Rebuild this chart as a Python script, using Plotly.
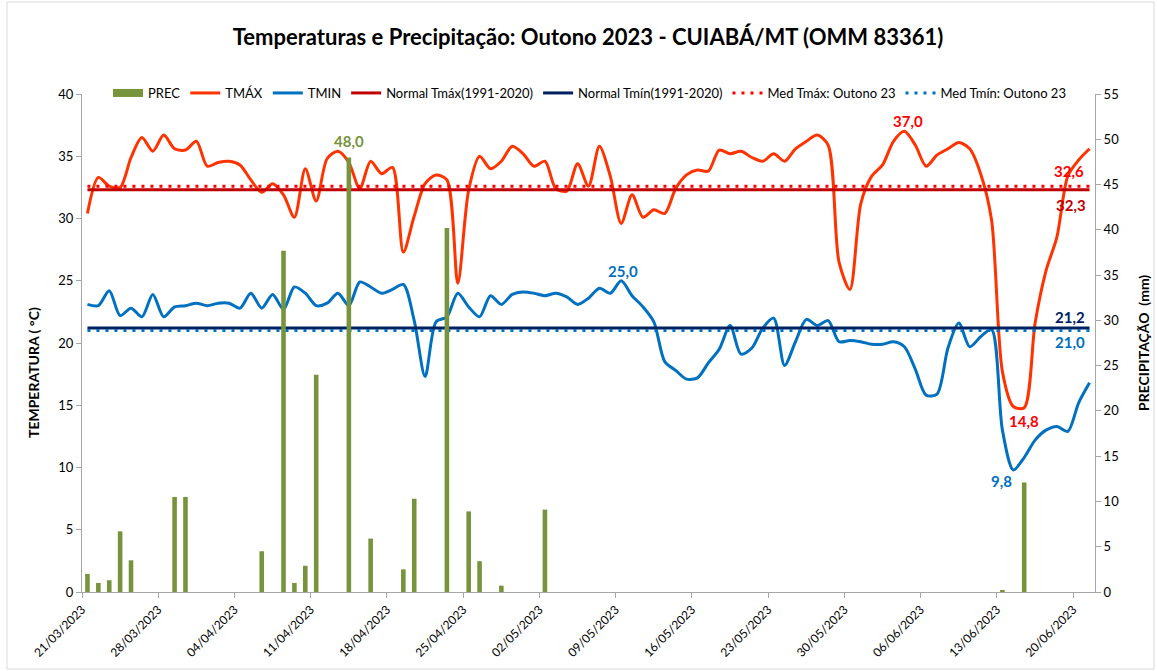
import pandas as pd
import plotly.graph_objects as go

# ---------------- data ----------------
START = "2023-03-21"

TMAX = [30.4, 33.3, 32.6, 32.5, 34.9, 36.5, 35.4, 36.7, 35.6, 35.5,
        36.2, 34.2, 34.5, 34.6, 34.3, 33.1, 32.1, 32.8, 31.9, 30.1,
        34.0, 31.4, 34.8, 35.4, 34.5, 32.4, 34.6, 33.6, 34.1, 27.3,
        30.2, 32.8, 33.5, 33.1, 24.8, 32.3, 35.0, 34.0, 34.6, 35.8,
        35.2, 34.2, 34.6, 32.4, 32.2, 34.4, 32.6, 35.8, 33.4, 29.6,
        31.9, 30.1, 30.7, 30.4, 32.4, 33.5, 33.9, 33.8, 35.5, 35.2,
        35.4, 34.9, 34.6, 35.2, 34.6, 35.6, 36.2, 36.7, 35.9, 26.5,
        24.3, 31.2, 33.4, 34.3, 36.2, 37.0, 35.9, 34.2, 35.1, 35.6,
        36.1, 35.6, 33.6, 29.9, 17.7, 14.9, 14.8, 21.6, 25.8, 28.5,
        33.4, 34.7, 35.6]

TMIN = [23.1, 23.0, 24.2, 22.2, 22.8, 22.1, 23.9, 22.1, 22.9, 23.0,
        23.2, 23.0, 23.2, 23.2, 22.8, 24.0, 22.8, 23.9, 22.7, 24.5,
        24.0, 23.0, 23.2, 24.0, 23.0, 24.9, 24.5, 24.0, 24.3, 24.7,
        21.8, 17.3, 21.7, 22.1, 24.0, 22.9, 22.1, 23.8, 23.1, 23.9,
        24.1, 24.0, 23.8, 24.0, 23.7, 23.1, 23.6, 24.4, 24.0, 25.0,
        23.8, 22.9, 21.7, 18.5, 17.8, 17.1, 17.2, 18.4, 19.5, 21.4,
        19.1, 19.6, 21.2, 22.0, 18.2, 20.1, 21.9, 21.4, 21.8, 20.1,
        20.2, 20.1, 19.9, 19.9, 20.1, 19.7, 17.9, 15.8, 15.9, 19.6,
        21.6, 19.7, 20.5, 21.1, 13.0, 9.8, 10.8, 12.2, 13.0, 13.3,
        12.9, 15.2, 16.8]

PREC = [2.0, 1.0, 1.3, 6.7, 3.5, 0, 0, 0, 10.5, 10.5,
        0, 0, 0, 0, 0, 0, 4.5, 0, 37.7, 1.0,
        2.9, 24.0, 0, 0, 48.0, 0, 5.9, 0, 0, 2.5,
        10.3, 0, 0, 40.2, 0, 8.9, 3.4, 0, 0.7, 0,
        0, 0, 9.1, 0, 0, 0, 0, 0, 0, 0,
        0, 0, 0, 0, 0, 0, 0, 0, 0, 0,
        0, 0, 0, 0, 0, 0, 0, 0, 0, 0,
        0, 0, 0, 0, 0, 0, 0, 0, 0, 0,
        0, 0, 0, 0, 0.2, 0, 12.1, 0, 0, 0,
        0, 0, 0]

NORMAL_TMAX = 32.3
NORMAL_TMIN = 21.2
MED_TMAX = 32.6
MED_TMIN = 21.0

TICK_DATES = ["2023-03-21", "2023-03-28", "2023-04-04", "2023-04-11",
              "2023-04-18", "2023-04-25", "2023-05-02", "2023-05-09",
              "2023-05-16", "2023-05-23", "2023-05-30", "2023-06-06",
              "2023-06-13", "2023-06-20"]
TICK_LABELS = ["21/03/2023", "28/03/2023", "04/04/2023", "11/04/2023",
               "18/04/2023", "25/04/2023", "02/05/2023", "09/05/2023",
               "16/05/2023", "23/05/2023", "30/05/2023", "06/06/2023",
               "13/06/2023", "20/06/2023"]

# ---------------- figure ----------------
FONT = "Lato"
C_PREC = "#77933C"
C_TMAX = "#FF3300"
C_TMIN = "#0070C0"
C_NTMAX = "#C00000"
C_NTMIN = "#002060"
C_MTMAX = "#FF0000"
C_MTMIN = "#0070C0"
AX = "#A6A6A6"

W, H = 1157, 671
ML, MR, MT, MB = 82, 62, 94, 79
PW, PH = W - ML - MR, H - MT - MB

dates = pd.date_range(START, periods=len(TMAX), freq="D")
half = pd.Timedelta(hours=12)
n = len(dates)


def fmt(v):
    return f"{v:.1f}".replace(".", ",")


fig = go.Figure()
fig.add_trace(go.Bar(x=dates, y=PREC, name="PREC", yaxis="y2", showlegend=False,
                     marker=dict(color=C_PREC, line=dict(width=0)),
                     width=0.42 * 86400000))
# legend entry for the bars drawn as a wide bar swatch (Excel style)
fig.add_trace(go.Scatter(x=[None], y=[None], name="PREC", mode="lines",
                         line=dict(color=C_PREC, width=8)))
fig.add_trace(go.Scatter(x=dates, y=TMAX, name="TMÁX", mode="lines",
                         line=dict(color=C_TMAX, width=3, shape="spline", smoothing=0.8)))
fig.add_trace(go.Scatter(x=dates, y=TMIN, name="TMIN", mode="lines",
                         line=dict(color=C_TMIN, width=3, shape="spline", smoothing=0.8)))
fig.add_trace(go.Scatter(x=dates, y=[NORMAL_TMAX] * n, name="Normal Tmáx(1991-2020)",
                         mode="lines", line=dict(color=C_NTMAX, width=3)))
fig.add_trace(go.Scatter(x=dates, y=[NORMAL_TMIN] * n, name="Normal Tmín(1991-2020)",
                         mode="lines", line=dict(color=C_NTMIN, width=3)))
fig.add_trace(go.Scatter(x=dates, y=[MED_TMAX] * n, name="Med Tmáx: Outono 23",
                         mode="lines", line=dict(color=C_MTMAX, width=3, dash="3px,6px")))
fig.add_trace(go.Scatter(x=dates, y=[MED_TMIN] * n, name="Med Tmín: Outono 23",
                         mode="lines", line=dict(color=C_MTMIN, width=3, dash="3px,6px")))

# data labels
ip = max(range(n), key=lambda i: PREC[i])
ixmax = max(range(n), key=lambda i: TMAX[i])
ixmin = min(range(n), key=lambda i: TMAX[i])
inmax = max(range(n), key=lambda i: TMIN[i])
inmin = min(range(n), key=lambda i: TMIN[i])
LBL = dict(family=FONT, size=15)
ann = [
    dict(x=dates[ip], y=PREC[ip], yref="y2", text=fmt(PREC[ip]), yshift=16,
         font=dict(LBL, color=C_PREC)),
    dict(x=dates[ixmax], y=TMAX[ixmax], yref="y", text=fmt(TMAX[ixmax]), yshift=10, xshift=4,
         font=dict(LBL, color=C_MTMAX)),
    dict(x=dates[ixmin], y=TMAX[ixmin], yref="y", text=fmt(TMAX[ixmin]), yshift=-13,
         font=dict(LBL, color=C_MTMAX)),
    dict(x=dates[inmax], y=TMIN[inmax], yref="y", text=fmt(TMIN[inmax]), yshift=10, xshift=2,
         font=dict(LBL, color=C_TMIN)),
    dict(x=dates[inmin], y=TMIN[inmin], yref="y", text=fmt(TMIN[inmin]), yshift=-11, xshift=-12,
         font=dict(LBL, color=C_TMIN)),
    dict(x=dates[-1], y=MED_TMAX, yref="y", text=fmt(MED_TMAX), yshift=15, xshift=-21,
         font=dict(LBL, color=C_MTMAX)),
    dict(x=dates[-1], y=NORMAL_TMAX, yref="y", text=fmt(NORMAL_TMAX), yshift=-15, xshift=-19,
         font=dict(LBL, color=C_NTMAX)),
    dict(x=dates[-1], y=NORMAL_TMIN, yref="y", text=fmt(NORMAL_TMIN), yshift=11, xshift=-20,
         font=dict(LBL, color=C_NTMIN)),
    dict(x=dates[-1], y=MED_TMIN, yref="y", text=fmt(MED_TMIN), yshift=-11, xshift=-20,
         font=dict(LBL, color=C_MTMIN)),
]
for a in ann:
    a.update(xref="x", showarrow=False, xanchor="center", yanchor="middle")
    a["text"] = "<b>" + a["text"] + "</b>"

# axis titles
ann.append(dict(xref="paper", yref="paper", x=(33 - ML) / PW, y=(H - MB - 373) / PH,
                text="<b>TEMPERATURA ( °C)</b>", textangle=-90, showarrow=False,
                xanchor="center", yanchor="middle",
                font=dict(family=FONT, size=14, color="#000")))
ann.append(dict(xref="paper", yref="paper", x=(1143 - ML) / PW, y=(H - MB - 343) / PH,
                text="<b>PRECIPITAÇÃO  (mm)</b>", textangle=-90, showarrow=False,
                xanchor="center", yanchor="middle",
                font=dict(family=FONT, size=14, color="#000")))

tickvals = [pd.Timestamp(d) - half for d in TICK_DATES]

fig.update_layout(
    width=W, height=H,
    margin=dict(l=ML, r=MR, t=MT, b=MB, autoexpand=False),
    paper_bgcolor="white", plot_bgcolor="white",
    font=dict(family=FONT, size=13, color="#000"),
    title=dict(text="<b>Temperaturas e Precipitação: Outono 2023 - CUIABÁ/MT (OMM 83361)</b>",
               x=588 / W, xanchor="center", xref="container",
               y=1 - 37 / H, yanchor="middle",
               font=dict(family=FONT, size=22, color="#000")),
    xaxis=dict(type="date", range=[dates[0] - half, dates[-1] + half],
               tickvals=tickvals, ticktext=TICK_LABELS, tickangle=-45,
               tickfont=dict(size=12, color="#000"), automargin=False,
               showline=True, linecolor=AX, linewidth=1, ticks="outside",
               ticklen=5, tickcolor=AX, showgrid=False, zeroline=False),
    yaxis=dict(range=[0, 40], dtick=5, showline=True, linecolor=AX, linewidth=1,
               ticks="outside", ticklen=5, tickcolor=AX, showgrid=False, zeroline=False,
               tickfont=dict(size=13, color="#000"), automargin=False),
    yaxis2=dict(range=[0, 55], dtick=5, overlaying="y", side="right", showline=True,
                linecolor=AX, linewidth=1, ticks="outside", ticklen=5, tickcolor=AX,
                showgrid=False, zeroline=False, tickfont=dict(size=13, color="#000"),
                automargin=False),
    legend=dict(orientation="h", x=(108 - ML) / PW, xanchor="left",
                y=1 + 1 / PH, yanchor="middle", bgcolor="rgba(0,0,0,0)",
                font=dict(family=FONT, size=13, color="#000"), itemwidth=30,
                traceorder="normal"),
    showlegend=True,
    annotations=ann,
    shapes=[dict(type="rect", xref="paper", yref="paper",
                 x0=(7 - ML) / PW, x1=(W - 3 - ML) / PW,
                 y0=(H - MB - (H - 2)) / PH, y1=(H - MB - 2) / PH,
                 line=dict(color="#D9D9D9", width=1), layer="below")],
)

fig.write_html("out.html", config={"displayModeBar": False},
               post_script="document.body.style.margin='0';")
